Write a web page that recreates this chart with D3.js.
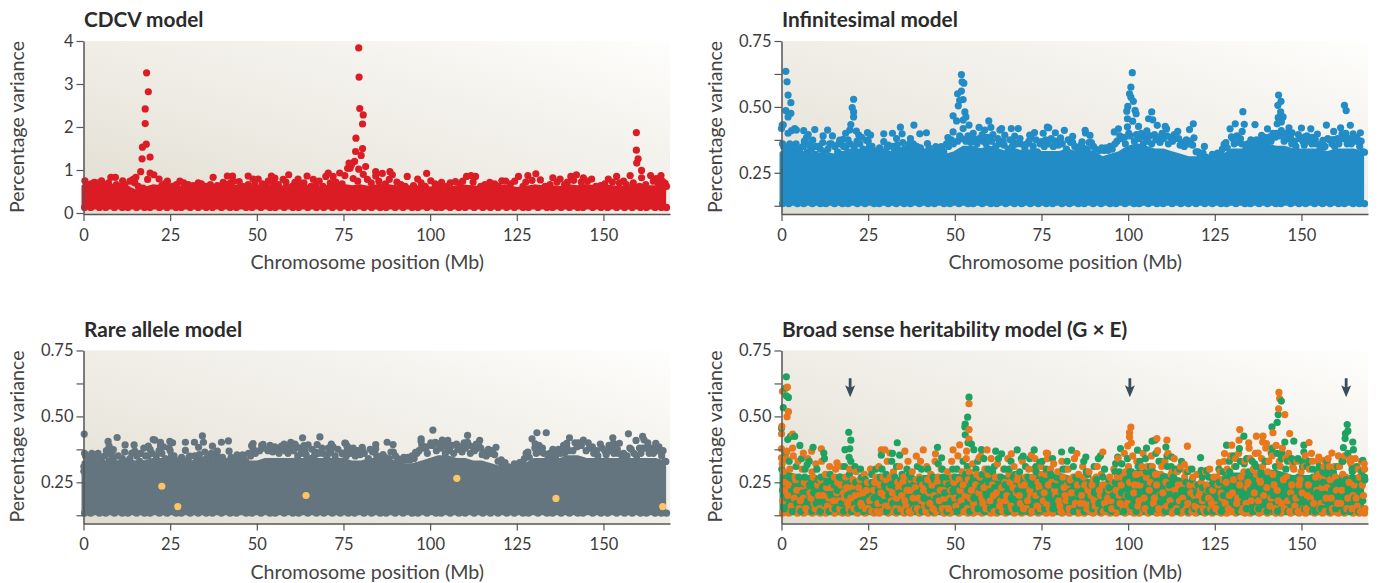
<!DOCTYPE html>
<html>
<head>
<meta charset="utf-8">
<script src="https://cdnjs.cloudflare.com/ajax/libs/d3/7.8.5/d3.min.js"></script>
<style>
  html, body { margin: 0; padding: 0; background: #fff; }
  svg { display: block; font-family: Lato, sans-serif; }
  .title { font-weight: 700; font-size: 20.8px; fill: #2b2b2b; }
  .label { font-size: 19.6px; fill: #444; }
  .tick text { font-size: 16.5px; fill: #3c3c3c; font-family: Lato, sans-serif; }
</style>
</head>
<body>
<div class="content"></div>
<script>
const xTicks = [0, 25, 50, 75, 100, 125, 150];
const cdcvTicks = [0, 1, 2, 3, 4];
const varTicks = [0.125, 0.25, 0.375, 0.5, 0.625, 0.75];
const varLabels = ["", "0.25", "", "0.50", "", "0.75"];

// Mb positions for the solid bottom part of each cloud
const coreMb = [0,2.5,5,7.5,10,12.5,15,17.5,20,22.5,25,27.5,30,32.5,35,37.5,40,42.5,45,47.5,50,52.5,55,57.5,60,62.5,65,67.5,70,72.5,75,77.5,80,82.5,85,87.5,90,92.5,95,97.5,100,102.5,105,107.5,110,112.5,115,117.5,120,122.5,125,127.5,130,132.5,135,137.5,140,142.5,145,147.5,150,152.5,155,157.5,160,162.5,165,167.5];

const cdcvCore = [.62,.64,.62,.6,.63,.6,.5,.56,.62,.6,
  .63,.6,.57,.6,.61,.63,.6,.63,.6,.57,
  .61,.63,.6,.6,.63,.62,.6,.58,.6,.62,
  .63,.6,.62,.58,.63,.63,.6,.6,.6,.6,
  .57,.6,.56,.6,.61,.6,.57,.6,.62,.6,
  .56,.58,.62,.6,.6,.58,.62,.6,.63,.6,
  .62,.6,.58,.6,.62,.6,.6,.6];
const infCore = [.325,.335,.325,.325,.315,.325,.315,.325,.335,.335,
  .335,.325,.315,.315,.325,.325,.325,.335,.325,.315,
  .325,.345,.345,.335,.345,.335,.325,.335,.325,.335,
  .325,.325,.325,.335,.325,.335,.325,.305,.315,.325,
  .345,.355,.345,.335,.335,.325,.315,.305,.305,.295,
  .305,.315,.335,.335,.335,.345,.355,.345,.345,.335,
  .335,.335,.335,.325,.335,.335,.335,.325];
const rareCore = [.325,.325,.325,.325,.325,.335,.325,.325,.335,.335,
  .335,.335,.325,.325,.335,.325,.325,.335,.325,.325,
  .325,.335,.335,.335,.335,.335,.335,.335,.335,.335,
  .335,.325,.325,.335,.335,.335,.325,.315,.315,.325,
  .335,.345,.345,.335,.335,.325,.325,.315,.305,.295,
  .295,.315,.335,.335,.335,.335,.345,.345,.335,.335,
  .335,.335,.335,.335,.335,.335,.335,.325];
const geCore = [.3,.28,.27,.27,.27,.26,.26,.26,.26,.25,
  .25,.25,.26,.26,.26,.26,.27,.27,.27,.26,
  .27,.28,.27,.27,.27,.27,.27,.27,.27,.27,
  .27,.27,.28,.27,.26,.26,.25,.24,.25,.26,
  .28,.29,.29,.29,.28,.27,.26,.25,.24,.24,
  .25,.27,.28,.28,.28,.28,.29,.29,.28,.27,
  .27,.27,.27,.27,.27,.27,.27,.27];
// lower edge of the clouds, shared positions
const floorMb = [0.3,2.1,4.6,6.4,8.9,11.2,12.8,15.3,17.6,19.2,21.9,24.1,26.7,28.2,30.8,33.1,35.4,37.2,39.8,42.3,44.1,46.9,48.6,51.2,53.8,55.3,57.9,60.4,62.1,64.7,67.2,69.3,71.8,74.1,76.4,78.2,80.9,83.1,85.6,87.3,89.9,92.2,94.8,96.5,99.1,101.7,103.2,105.8,108.3,110.1,112.7,115.2,117.4,119.6,122.1,124.3,126.8,128.4,131.1,133.7,135.3,137.8,140.2,142.6,144.1,146.9,149.3,151.2,153.8,156.1,158.3,160.7,162.4,164.9,166.7,168.2];

const cdcvPoints = [[18.2,3.26],[18.7,2.82],[17.8,2.42],[17.8,2.08],[18.1,1.6],[17,1.53],[16.9,1.26],[19.2,1.3],[16.5,.96],[19.2,.93],[20.3,.89],[18.5,.78],[17.2,.58],[21.8,.79],[24.2,.74],
  [.4,.75],[3.1,.71],[5.2,.75],[7.9,.83],[9.2,.83],[11.3,.75],[13.4,.74],[15.1,.83],[14.3,.78],[1.3,.66],[4.2,.7],[6.6,.62],[9.5,.66],[12.2,.58],[27.8,.74],[30.2,.66],[33.1,.7],[34,.68],[37.4,.83],[36.6,.66],[40.3,.71],[41.5,.86],[43,.86],[44.9,.73],[43.2,.74],[47.5,.86],[48.9,.79],[47.5,.66],[50.4,.79],[54.2,.86],[55.2,.81],[53.3,.74],[57.6,.78],[59.2,.89],[61,.71],[61.9,.79],[64.5,.86],[66.3,.78],[68,.74],[70.6,.93],[69.9,.85],[72,.85],[73.9,.93],[75.4,.87],[76.2,1.04],[76.6,1.16],
  [79.4,3.84],[79.5,3.16],[79.7,2.43],[80.7,2.28],[80.5,2.07],[78.6,1.74],[80.5,1.5],[78.5,1.43],[80.1,1.34],[78.2,1.2],[77.3,1.12],[81.4,1.08],[79.4,1.02],[76.9,1.04],[80.7,.9],[84.3,.96],[84.3,.86],[86.2,.92],[88.4,.96],[89.1,.89],[93.4,.85],[96.4,.79],[99,.92],[100.2,.75],[103.3,.71],[107.3,.73],[110.5,.85],[111.8,.87],[113.1,.85],[117.2,.71],[120.7,.75],[125.5,.85],[128.2,.87],[130.5,.91],[131.8,.77],[135.4,.82],[137.5,.79],[140.6,.85],[142.2,.89],[144.2,.82],[146.6,.79],[151.4,.79],[153.8,.85],[155.8,.74],[157.7,.87],[159.5,1.87],[159.5,1.46],[160,1.26],[159.6,1.16],[161,.99],[161,.82],[163.6,.87],[166.6,.87],[167.8,.69],[165.2,.8]];
const cdcvFill = [[.8,.62],[2.2,.68],[3.8,.6],[5.6,.66],[7.2,.7],[8.4,.6],[10.4,.62],[11.8,.66],[14.8,.7],[15.8,.62],[22.6,.64],[23.4,.68],[25.6,.62],[26.8,.66],[28.9,.7],[29.8,.6],[31.6,.64],[35.2,.62],[38.6,.64],[39.4,.6],[41.2,.66],[42.4,.7],[45.8,.62],[46.6,.6],[49.4,.66],[51.6,.68],[52.6,.62],[54.8,.7],[56.2,.66],[58.4,.72],[60.2,.62],[62.8,.66],[63.6,.7],[65.6,.62],[67.1,.66],[69.1,.62],[71.2,.7],[72.8,.72],[74.6,.68],[77.8,.8],[79.1,.74],[81.9,.78],[83,.7],[85.2,.74],[87.1,.68],[88.2,.78],[90.4,.72],[91.6,.66],[92.8,.62],[95.2,.64],[97.4,.7],[98.6,.62],[101.4,.68],[102.6,.6],[104.8,.62],[105.8,.7],[108.6,.68],[109.4,.74],[112.4,.72],[114.6,.62],[115.8,.66],[118.6,.68],[119.6,.62],[121.8,.74],[123.2,.68],[124.4,.74],[126.8,.62],[127.6,.72],[129.4,.76],[133.2,.62],[134.6,.66],[136.6,.72],[138.8,.66],[139.6,.72],[141.4,.76],[143.6,.72],[145.4,.74],[147.8,.62],[149.2,.64],[150.4,.68],[152.6,.72],[154.6,.7],[156.6,.66],[158.6,.7],[160.4,.62],[162.2,.66],[164.4,.74],[165.9,.68],[167,.74],[168.2,.62]];

const infPoints = [[1.25,.635],[1.6,.595],[1.9,.545],[2.7,.516],[1.25,.486],[2.7,.476],[1.9,.462],[.2,.431],[.5,.432],[0,.418],[1.9,.4],[3.8,.418],[2.9,.41],[4.3,.412],[6.4,.41],[7.7,.395],[9.6,.414],[7.2,.384],[9,.374],[8.2,.36],[12,.39],[13.3,.412],[14.7,.39],[10.6,.35],[14.4,.36],[16.8,.374],[17.8,.377],[18.5,.4],[19.7,.412],[20,.433],[20.4,.497],[20.8,.481],[20.8,.462],[20.8,.529],[21.6,.408],[22.3,.393],[24.8,.403],[25.7,.393],[24.5,.374],[29.5,.398],[29.5,.368],[30.8,.355],[32,.4],[33.2,.38],[34.3,.423],[34.8,.398],[38.2,.431],[37.2,.38],[38,.36],[39,.35],[39.9,.398],[41.8,.402],[42.1,.361],[44.5,.349],[46.1,.349],
  [49.5,.466],[50.5,.447],[51.9,.623],[52.1,.595],[52.6,.59],[51.9,.56],[50.8,.55],[52.4,.528],[51.4,.525],[51,.504],[52.9,.481],[53.2,.462],[52.4,.45],[54.1,.431],[49.5,.405],[48,.384],[52.4,.418],[55.3,.4],[57,.422],[58.6,.412],[59.8,.447],[60.4,.422],[63,.412],[63.5,.418],[64.4,.393],[66.3,.418],[68.3,.418],[67.3,.389],[71.6,.393],[73,.403],[75.5,.4],[76.7,.423],[75,.368],
  [101.2,.63],[100.8,.575],[100.4,.55],[100.8,.537],[101.5,.521],[99.9,.502],[99.6,.484],[102,.487],[102.3,.474],[106.8,.481],[105.9,.455],[107.1,.451],[99.8,.455],[101.3,.446],[108.4,.43],[99.8,.424],[103,.426],[110.7,.426],[111.1,.417],[114.3,.407],[117.7,.414],[118.8,.436],[122,.35],[119,.383],[105.4,.409],[97.2,.417],[96,.405],[87.6,.411],[87.7,.401],[89,.392],[81.6,.411],[77.1,.421],[79,.402],[84,.388],[80.5,.383],[86.7,.367],[133.1,.482],[130.9,.436],[133.5,.434],[129.4,.417],[132.9,.407],[136.6,.433],[127.7,.358],[129.8,.386],[135.6,.367],[138.5,.392],[140.2,.417],[140.9,.386],[143.4,.545],[144.1,.521],[143.2,.506],[144,.481],[144.7,.462],[143.3,.459],[143,.436],[144.2,.443],[146.4,.421],[147.3,.402],[145.2,.386],[150,.42],[151,.386],[152.7,.417],[153.4,.38],[154.6,.397],[157.2,.431],[156.2,.373],[159.3,.407],[161.3,.421],[161.7,.398],[162.4,.506],[162.9,.486],[164.1,.43],[164.9,.398],[167,.402],[166.3,.371],[168.2,.328],[159.1,.376]];
const rarePoints = [[.2,.433],[.1,.31],[.1,.292],[7.1,.405],[7.4,.387],[9.7,.42],[8.6,.374],[8,.361],[12,.392],[14.6,.392],[14.8,.368],[17.4,.38],[18.7,.387],[20.1,.412],[20.6,.41],[22.2,.402],[22.2,.389],[24.9,.405],[25.7,.4],[24.7,.38],[29.4,.402],[29.4,.371],[30.7,.349],[32,.402],[33.2,.383],[34.3,.426],[34.6,.402],[37.2,.387],[38.6,.368],[39.8,.402],[41.8,.407],[42,.368],[44.3,.354],[45.9,.354],[48.5,.389],[48.9,.397],[51.8,.394],[57.1,.387],[59.8,.402],[61.3,.387],[63.2,.419],[63.6,.389],[64.8,.392],[67.4,.393],[68.2,.422],[71.5,.395],[70.6,.38],[75.4,.399],[76.1,.387],[74.9,.361],
  [100.8,.448],[97.4,.415],[97.4,.406],[101.5,.402],[102.6,.396],[103.5,.41],[105.1,.409],[110.8,.428],[110.8,.402],[114.3,.409],[114,.39],[119,.383],[98.6,.383],[95.8,.364],[87.6,.402],[89.3,.393],[84.3,.393],[84.3,.377],[80.4,.383],[75.6,.398],[76.1,.383],[74.7,.358],[78.8,.358],[130.8,.438],[133.5,.438],[129.4,.415],[130.3,.396],[127.7,.36],[135.8,.368],[140.2,.419],[139.4,.398],[138.5,.39],[143.5,.393],[152.7,.419],[152.9,.398],[154.6,.398],[153.4,.377],[157.2,.434],[159.4,.409],[161.3,.424],[161.7,.411],[165.1,.398],[163.2,.377],[166.3,.37],[168,.329],[120.5,.335],[124.3,.307],[126.3,.326],[129.7,.32]];
// the upper fringe of the cloud looks the same in the two middle models
const sharedFill = [[.6,.35],[1.4,.33],[2.4,.36],[3.2,.34],[4.2,.36],[5.2,.33],[6.2,.35],[7.4,.33],[8.6,.34],[9.8,.32],[11.2,.34],[12.4,.33],[13.4,.34],[15.4,.35],[16.2,.33],[17.2,.32],[18.6,.35],[19.8,.36],[21,.35],[22.6,.36],[23.6,.34],[25.4,.35],[26.6,.33],[27.8,.335],[28.8,.33],[30,.33],[31.4,.32],[32.6,.33],[33.8,.335],[35.4,.34],[36.4,.345],[37.6,.335],[39.4,.33],[40.6,.325],[41.6,.33],[43,.33],[44.2,.33],[45.4,.325],[46.8,.33],[48.2,.35],[49.6,.36],[50.8,.37],[52,.38],[53.2,.37],[54.6,.365],[55.8,.37],[57,.38],[58.2,.37],[59.4,.385],[60.6,.37],[61.8,.35],[62.8,.36],[64.2,.355],[65.4,.34],[66.6,.35],[67.8,.36],[69,.36],[70.2,.34],[71.4,.37],[72.6,.35],[73.8,.33],[75.8,.35],[77,.36],[78.4,.35],[79.8,.355],[81,.36],[82.2,.34],[83.4,.365],[84.6,.35],[85.8,.33],[87,.345],[88.2,.34],[89.4,.365],[90.6,.34],[91.8,.335],[93,.335],[94.2,.335],[95.4,.34],[96.8,.37],[98,.38],[99.2,.36],[100.6,.39],[101.8,.37],[103.2,.38],[104.4,.36],[105.6,.37],[106.8,.36],[108,.375],[109.2,.365],[110.2,.38],[111.6,.36],[112.8,.37],[113.8,.38],[115,.355],[116.2,.35],[117.4,.36],[118.6,.355],[119.6,.33],[120.8,.315],[122.4,.31],[123.6,.305],[125,.31],[126.8,.32],[128.6,.345],[130.6,.36],[131.8,.365],[132.8,.36],[134,.34],[135,.35],[136.2,.35],[137.6,.36],[138.8,.36],[140,.37],[141.2,.37],[142.4,.385],[143.6,.39],[145,.37],[146,.38],[147.2,.36],[148.4,.35],[149.6,.38],[150.8,.355],[152,.37],[153,.36],[154.2,.36],[155.4,.34],[156.8,.35],[158,.375],[159.6,.35],[160.8,.36],[162.2,.38],[163.2,.36],[164.4,.36],[165.6,.37],[166.8,.35],[167.8,.33]];
const sharedCrest = [[.3,.36],[2,.35],[3.9,.355],[4.9,.345],[6.6,.37],[8,.355],[10,.35],[11.9,.365],[13.9,.36],[16.5,.36],[17.9,.35],[19.2,.375],[21.8,.37],[23.1,.385],[25,.37],[26.1,.35],[28.3,.345],[30.4,.345],[32.1,.35],[33.4,.355],[35,.365],[36.9,.36],[38.6,.35],[40.1,.345],[42.6,.345],[44.9,.335],[46.2,.34],[47.6,.36],[49,.375],[51.4,.39],[53.8,.39],[55.2,.385],[56.4,.36],[57.9,.395],[59,.36],[61,.395],[62.4,.38],[63.9,.37],[65.9,.375],[67,.365],[68.8,.38],[70.8,.36],[72,.385],[73.4,.375],[74.6,.36],[76.2,.375],[77.8,.38],[79,.37],[80.4,.375],[82.7,.375],[84,.365],[85.2,.345],[86.4,.355],[88.7,.365],[90,.35],[92.4,.345],[93.6,.345],[94.8,.35],[96.2,.36],[97.6,.39],[99,.385],[100.2,.4],[102.4,.395],[103.8,.4],[104.9,.385],[106.2,.39],[107.6,.395],[108.8,.385],[109.8,.4],[111.2,.39],[112.3,.385],[113.3,.395],[114.6,.38],[115.6,.365],[116.8,.375],[118,.37],[120.2,.33],[121.6,.325],[124.3,.32],[125.8,.325],[127.2,.34],[128.2,.365],[130.2,.38],[131.4,.39],[132.4,.38],[134.5,.36],[135.4,.375],[137,.375],[138.2,.375],[139.4,.385],[141.8,.4],[142.8,.4],[144.2,.41],[145.6,.4],[146.8,.385],[148,.37],[149.1,.395],[150.4,.37],[151.6,.39],[153.1,.385],[154,.375],[155.8,.36],[157.6,.38],[158.8,.36],[160.4,.38],[161.4,.38],[162.8,.4],[163.8,.38],[165.1,.38],[166,.385],[167.2,.37]];
const rareAlleles = [[22.6,.235],[27.2,.158],[64.2,.2],[107.7,.265],[136.3,.189],[167.1,.158]];

const gePeakGreen = [[1.4,.65],[1.2,.607],[1.4,.578],[2,.572],[.5,.533],[0,.455],[1.8,.412],[2.6,.424],[3.8,.424],[5.3,.39],[9.1,.383],[19.4,.44],[20,.41],[19.7,.377],[18.3,.374],[19.5,.345],[33.4,.4],[28.8,.353],[32,.36],[34.1,.353],[45,.383],[46.2,.343],[54.1,.573],[53.7,.497],[53,.471],[52.9,.46],[53,.43],[53.8,.4],[54.8,.395],[55.5,.374],[57.7,.374],[61.8,.368],[63.5,.358],[68,.373],[72.9,.373],[69.7,.349],[74.5,.326],[12.2,.361],[7.4,.317],
  [163.2,.469],[163.4,.445],[162.7,.435],[162.6,.416],[164.8,.403],[162.1,.382],[165,.374],[144.2,.558],[143.3,.507],[143,.477],[141.5,.46],[97.8,.378],[97,.346],[102.7,.372],[105.3,.38],[106.9,.406],[107.8,.41],[110.9,.384],[112.6,.346],[120.9,.344],[121.1,.295],[128.4,.391],[132.1,.378],[133.4,.425],[145.2,.403],[147.8,.406],[150.7,.391],[150.7,.365],[92,.35],[80.8,.365],[83.7,.372],[87.8,.346],[96.4,.321],[157.6,.308],[167.7,.333],[122.7,.295]];
const gePeakOrange = [[.3,.595],[1.7,.611],[2,.518],[1.6,.499],[0,.434],[.1,.462],[3.2,.433],[0,.377],[1.6,.368],[3.2,.38],[0,.343],[6.3,.361],[11.5,.377],[8.7,.368],[16,.324],[28.8,.373],[29.8,.373],[31.3,.361],[35.6,.368],[40.9,.373],[38.9,.349],[44.4,.358],[54.1,.548],[54.1,.45],[54.1,.414],[51.4,.392],[49.5,.373],[53.4,.368],[59.3,.373],[57,.343],[66.3,.358],[72.1,.353],[76.4,.361],
  [100.8,.459],[100.4,.439],[100.4,.422],[100.9,.4],[99.9,.388],[108.3,.416],[111.2,.41],[117.1,.387],[116.2,.318],[132.2,.45],[132,.41],[137,.425],[138.9,.425],[138.8,.403],[139.9,.397],[143.5,.591],[143.7,.568],[143.4,.529],[145.2,.507],[141.8,.438],[146.6,.435],[152.2,.401],[147.1,.333],[155,.346],[158.8,.361],[156.6,.333],[168.1,.321],[164.3,.34],[92.7,.365],[85.2,.359],[76.8,.359],[126.3,.325],[127.8,.359],[129.9,.391],[134.8,.4],[137.5,.361]];
const geCloudOrange = [[.2,.32],[.6,.29],[1,.25],[1.4,.34],[1.8,.2],[2.4,.3],[2.8,.16],[3.4,.35],[3.9,.27],[4.4,.22],[4.8,.33],[5.4,.18],[6,.3],[6.6,.25],[7,.15],[7.6,.34],[8.2,.21],[8.8,.29],[9.4,.17],[9.9,.32],
  [10.4,.24],[11,.15],[11.6,.33],[12,.2],[12.7,.28],[13.3,.16],[13.9,.31],[14.4,.23],[15,.18],[15.6,.3],[16.2,.25],[16.8,.15],[17.4,.31],[17.9,.21],[18.5,.27],[19.1,.17],[19.7,.3],[20.3,.23],[20.9,.15],[21.5,.29],
  [22,.2],[22.6,.26],[23.2,.16],[23.9,.28],[24.5,.22],[25,.15],[25.7,.3],[26.3,.19],[26.9,.25],[27.5,.14],[28.1,.31],[28.7,.21],[29.3,.27],[29.9,.16],[30.5,.33],[31.1,.23],[31.7,.18],[32.3,.29],[32.9,.15],[33.5,.25],
  [34.1,.31],[34.7,.2],[35.3,.27],[35.9,.16],[36.5,.33],[37.1,.22],[37.7,.29],[38.3,.15],[38.9,.26],[39.5,.19],[40.1,.33],[40.7,.24],[41.3,.16],[41.9,.31],[42.5,.21],[43.1,.28],[43.7,.15],[44.3,.33],[44.9,.25],[45.5,.18],
  [46.1,.3],[46.7,.22],[47.3,.15],[47.9,.29],[48.5,.19],[49.1,.33],[49.7,.25],[50.3,.16],[50.9,.35],[51.5,.22],[52.1,.29],[52.7,.14],[53.3,.34],[53.9,.26],[54.5,.19],[55.1,.32],[55.7,.15],[56.3,.28],[56.9,.21],[57.5,.35],
  [58.1,.17],[58.7,.3],[59.3,.24],[59.9,.15],[60.5,.34],[61.1,.2],[61.7,.27],[62.3,.32],[62.9,.16],[63.5,.23],[64.1,.3],[64.7,.18],[65.3,.34],[65.9,.25],[66.5,.15],[67.1,.31],[67.7,.21],[68.3,.28],[68.9,.17],[69.5,.33],
  [70.1,.24],[70.7,.15],[71.3,.3],[71.9,.2],[72.5,.27],[73.1,.34],[73.7,.16],[74.3,.23],[74.9,.31],[75.5,.18],[76.1,.28],[76.7,.34],[77.3,.15],[77.9,.25],[78.5,.32],[79.1,.2],[79.7,.29],[80.3,.16],[80.9,.33],[81.5,.23],
  [82.1,.18],[82.7,.3],[83.3,.26],[83.9,.15],[84.5,.34],[85.1,.21],[85.7,.28],[86.3,.17],[86.9,.31],[87.5,.24],[88.1,.15],[88.7,.29],[89.3,.2],[89.9,.26],[90.5,.16],[91.1,.31],[91.7,.22],[92.3,.28],[92.9,.14],[93.5,.24],
  [94.1,.19],[94.7,.27],[95.3,.15],[95.9,.3],[96.5,.22],[97.1,.34],[97.7,.17],[98.3,.27],[98.9,.36],[99.5,.2],[100.1,.31],[100.7,.15],[101.3,.35],[101.9,.24],[102.5,.33],[103.1,.18],[103.7,.28],[104.3,.36],[104.9,.15],[105.5,.31],
  [106.1,.22],[106.7,.35],[107.3,.17],[107.9,.28],[108.5,.37],[109.1,.2],[109.7,.31],[110.3,.15],[110.9,.25],[111.5,.36],[112.1,.18],[112.7,.29],[113.3,.34],[113.9,.15],[114.5,.24],[115.1,.31],[115.7,.19],[116.3,.27],[116.9,.15],[117.5,.3],
  [118.1,.21],[118.7,.27],[119.3,.16],[119.9,.28],[120.5,.2],[121.1,.25],[121.7,.15],[122.3,.29],[122.9,.22],[123.5,.3],[124.1,.17],[124.7,.27],[125.3,.15],[125.9,.24],[126.5,.29],[127.1,.19],[127.7,.33],[128.3,.25],[128.9,.15],[129.5,.35],
  [130.1,.21],[130.7,.31],[131.3,.17],[131.9,.36],[132.5,.27],[133.1,.15],[133.7,.33],[134.3,.23],[134.9,.38],[135.5,.18],[136.1,.3],[136.7,.36],[137.3,.15],[137.9,.26],[138.5,.34],[139.1,.2],[139.7,.38],[140.3,.29],[140.9,.16],[141.5,.35],
  [142.1,.24],[142.7,.39],[143.3,.18],[143.9,.31],[144.5,.38],[145.1,.15],[145.7,.27],[146.3,.36],[146.9,.21],[147.5,.31],[148.1,.16],[148.7,.33],[149.3,.24],[149.9,.29],[150.5,.15],[151.1,.35],[151.7,.2],[152.3,.3],[152.9,.36],[153.5,.17],
  [154.1,.27],[154.7,.33],[155.3,.15],[155.9,.23],[156.5,.31],[157.1,.19],[157.7,.34],[158.3,.26],[158.9,.15],[159.5,.31],[160.1,.22],[160.7,.35],[161.3,.17],[161.9,.28],[162.5,.35],[163.1,.15],[163.7,.25],[164.3,.32],[164.9,.2],[165.5,.34],
  [166.1,.16],[166.7,.27],[167.3,.33],[167.9,.2],[168.3,.15]];
const geCloudGreen = [[.1,.3],[1.2,.36],[2.2,.33],[3,.27],[4.2,.31],[5.8,.34],[6.8,.3],[8,.33],[9,.25],[10.2,.3],[11.4,.27],[12.4,.34],[14,.28],[15.2,.24],[17,.27],[18.2,.31],[20,.33],[21.2,.31],[22.8,.3],[24.2,.26],
  [26,.28],[27.2,.3],[29,.3],[30.2,.28],[31.8,.33],[33.2,.31],[34.8,.28],[36.2,.3],[37.4,.27],[39.2,.31],[40.4,.3],[42.2,.3],[43.8,.27],[45.2,.32],[46.4,.3],[47.6,.27],[49.4,.3],[50.6,.3],[52.4,.33],[53.6,.31],
  [55.4,.27],[56.6,.33],[58.4,.34],[59.6,.3],[61.4,.31],[62.6,.34],[64.4,.3],[66.2,.33],[67.4,.28],[69.2,.34],[70.4,.31],[71.6,.34],[73.4,.31],[75.2,.33],[76.4,.3],[78.2,.34],[79.4,.27],[81.2,.3],[82.4,.33],[84.2,.31],
  [85.4,.27],[87.2,.33],[88.4,.28],[90.2,.31],[91.4,.34],[93.2,.3],[94.4,.26],[96.2,.29],[98.2,.32],[99.8,.34],[101,.29],[103.4,.33],[105,.34],[106.4,.31],[108,.36],[109.4,.33],[111.2,.35],[112.4,.31],[113.6,.3],[115.4,.33],
  [117.2,.29],[118.4,.3],[120.2,.24],[121.4,.27],[123.2,.27],[124.4,.25],[126.2,.3],[127.4,.29],[129.2,.33],[130.4,.35],[132.4,.33],[134.2,.34],[135.8,.33],[137,.31],[138.2,.3],[140.2,.33],[141.6,.38],[143,.36],[144.2,.34],[146,.33],
  [147.2,.34],[149,.34],[150.2,.33],[151.6,.31],[153.2,.3],[154.6,.29],[156.2,.29],[157.4,.33],[159.2,.29],[160.4,.31],[162,.33],[163.4,.36],[164.6,.3],[166,.31],[167.4,.29],[168.2,.27]];
const geBandOrange = [[.4,.18],[.9,.22],[2,.24],[2.7,.14],[3.7,.19],[4.1,.26],[5.1,.15],[5.7,.22],[6.3,.19],[7.3,.24],[8,.14],[8.5,.19],[9.1,.27],[9.7,.15],[10.7,.2],[11.3,.26],[12.3,.16],[13,.23],[13.6,.19],[14.7,.15],[15.3,.27],[15.9,.21],[16.5,.18],[17.1,.24],[17.7,.14],[18.2,.19],[18.8,.23],[19.4,.15],[20,.19],[20.6,.26],[21.2,.2],[21.8,.14],[22.3,.23],[22.9,.17],[23.5,.21],[24.2,.15],[24.8,.25],[25.4,.18],[26,.14],[26.6,.22],[27.2,.27],[27.8,.17],[28.4,.24],[29,.14],[29.6,.2],[30.2,.26],[30.8,.16],[31.4,.27],[32,.21],[32.6,.14],[33.2,.19],[33.8,.23],[34.4,.15],[35,.25],[35.6,.18],[36.2,.22],[36.8,.14],[37.4,.26],[38,.19],[38.6,.23],[39.2,.15],[39.8,.27],[40.4,.18],[41,.22],[41.6,.14],[42.2,.26],[42.8,.17],[43.4,.24],[44,.2],[44.6,.14],[45.2,.27],[45.8,.22],[46.4,.15],[47,.19],[47.6,.25],[48.2,.15],[48.8,.22],[49.4,.27],[50,.19],[50.6,.14],[51.2,.26],[51.8,.18],[52.4,.24],[53,.2],[53.6,.15],[54.2,.29],[54.8,.22],[55.4,.17],[56,.24],[56.6,.14],[57.2,.27],[57.8,.19],[58.4,.23],[59,.15],[59.6,.28],[60.2,.18],[60.8,.24],[61.4,.14],[62,.21],[62.6,.27],[63.2,.18],[63.8,.14],[64.4,.25],[65,.2],[65.6,.28],[66.2,.16],[66.8,.23],[67.4,.14],[68,.26],[68.6,.2],[69.2,.24],[69.8,.15],[70.4,.27],[71,.18],[71.6,.22],[72.2,.14],[72.8,.3],[73.4,.2],[74,.25],[74.6,.15],[75.2,.28],[75.8,.21],[76.4,.17],[77,.24],[77.6,.3],[78.2,.14],[78.8,.22],[79.4,.26],[80,.18],[80.6,.14],[81.2,.27],[81.8,.2],[82.4,.24],[83,.15],[83.6,.21],[84.2,.27],[84.8,.17],[85.4,.24],[86,.14],[86.6,.2],[87.2,.27],[87.8,.17],[88.4,.22],[89,.14],[89.6,.24],[90.2,.18],[90.8,.27],[91.4,.14],[92,.2],[92.6,.24],[93.2,.17],[93.8,.14],[94.4,.22],[95,.18],[95.6,.25],[96.2,.15],[96.8,.27],[97.4,.2],[98,.24],[98.6,.15],[99.2,.29],[99.8,.17],[100.4,.25],[101,.14],[101.6,.21],[102.2,.28],[102.8,.16],[103.4,.24],[104,.31],[104.6,.19],[105.2,.27],[105.8,.14],[106.4,.25],[107,.31],[107.6,.19],[108.2,.24],[108.8,.15],[109.4,.28],[110,.21],[110.6,.33],[111.2,.16],[111.8,.23],[112.4,.28],[113,.14],[113.6,.22],[114.2,.29],[114.8,.18],[115.4,.24],[116,.14],[116.6,.29],[117.2,.17],[117.8,.24],[118.4,.14],[119,.2],[119.6,.24],[120.2,.15],[120.8,.22],[121.4,.18],[122,.14],[122.6,.24],[123.2,.19],[123.8,.15],[124.4,.22],[125,.18],[125.6,.27],[126.2,.14],[126.8,.21],[127.4,.26],[128,.17],[128.6,.3],[129.2,.2],[129.8,.14],[130.4,.26],[131,.34],[131.6,.19],[132.2,.24],[132.8,.14],[133.4,.29],[134,.17],[134.6,.25],[135.2,.34],[135.8,.14],[136.4,.21],[137,.28],[137.6,.18],[138.2,.25],[138.8,.31],[139.4,.14],[140,.23],[140.6,.33],[141.2,.19],[141.8,.28],[142.4,.15],[143,.22],[143.6,.33],[144.2,.17],[144.8,.26],[145.4,.34],[146,.18],[146.6,.14],[147.2,.24],[147.8,.3],[148.4,.19],[149,.14],[149.6,.26],[150.2,.21],[150.8,.31],[151.4,.15],[152,.24],[152.6,.19],[153.2,.33],[153.8,.14],[154.4,.22],[155,.28],[155.6,.17],[156.2,.26],[156.8,.14],[157.4,.23],[158,.31],[158.6,.19],[159.2,.14],[159.8,.27],[160.4,.17],[161,.31],[161.6,.22],[162.2,.14],[162.8,.27],[163.4,.19],[164,.33],[164.6,.15],[165.2,.24],[165.8,.19],[166.4,.3],[167,.14],[167.6,.24],[168.2,.3]];
const geBandGreen = [[.3,.22],[.8,.15],[1.5,.19],[2.3,.27],[3.1,.14],[3.8,.23],[4.4,.17],[5,.27],[5.6,.14],[6.2,.21],[6.7,.27],[7.5,.18],[8.1,.24],[8.7,.14],[9.3,.21],[10,.17],[10.6,.26],[11.2,.14],[11.8,.23],[12.5,.17],[13.1,.25],[13.7,.14],[14.3,.2],[14.9,.26],[15.5,.15],[16.1,.22],[16.7,.27],[17.3,.17],[17.9,.14],[18.5,.24],[19,.2],[19.6,.28],[20.2,.14],[20.8,.21],[21.4,.25],[22,.15],[22.5,.18],[23.1,.27],[23.7,.14],[24.3,.23],[24.9,.18],[25.5,.14],[26.1,.25],[26.7,.19],[27.3,.14],[27.9,.22],[28.5,.27],[29.1,.18],[29.7,.24],[30.3,.14],[30.9,.2],[31.5,.24],[32.1,.17],[32.7,.27],[33.3,.14],[33.9,.21],[34.5,.26],[35.1,.17],[35.7,.23],[36.3,.14],[36.9,.28],[37.5,.19],[38.1,.24],[38.7,.15],[39.3,.21],[39.9,.26],[40.5,.14],[41.1,.19],[41.7,.25],[42.3,.16],[42.9,.22],[43.5,.14],[44.1,.26],[44.7,.19],[45.3,.23],[45.9,.15],[46.5,.27],[47.1,.21],[47.7,.14],[48.3,.24],[48.9,.18],[49.5,.22],[50.1,.27],[50.7,.14],[51.3,.19],[51.9,.24],[52.5,.16],[53.1,.28],[53.7,.22],[54.3,.14],[54.9,.25],[55.5,.19],[56.1,.3],[56.7,.15],[57.3,.23],[57.9,.28],[58.5,.14],[59.1,.2],[59.7,.25],[60.3,.15],[60.9,.29],[61.5,.23],[62.1,.17],[62.7,.14],[63.3,.27],[63.9,.2],[64.5,.24],[65.1,.14],[65.7,.3],[66.3,.19],[66.9,.27],[67.5,.15],[68.1,.22],[68.7,.29],[69.3,.14],[69.9,.25],[70.5,.18],[71.1,.27],[71.7,.14],[72.3,.24],[72.9,.19],[73.5,.29],[74.1,.14],[74.7,.21],[75.3,.26],[75.9,.15],[76.5,.24],[77.1,.19],[77.7,.28],[78.3,.15],[78.9,.24],[79.5,.19],[80.1,.14],[80.7,.26],[81.3,.21],[81.9,.3],[82.5,.15],[83.1,.25],[83.7,.18],[84.3,.14],[84.9,.27],[85.5,.21],[86.1,.16],[86.7,.25],[87.3,.14],[87.9,.29],[88.5,.19],[89.1,.24],[89.7,.15],[90.3,.21],[90.9,.26],[91.5,.17],[92.1,.14],[92.7,.27],[93.3,.2],[93.9,.15],[94.5,.23],[95.1,.14],[95.7,.2],[96.3,.25],[96.9,.16],[97.5,.29],[98.1,.21],[98.7,.14],[99.3,.26],[99.9,.2],[100.5,.29],[101.1,.16],[101.7,.26],[102.3,.14],[102.9,.31],[103.5,.21],[104.1,.26],[104.7,.15],[105.3,.29],[105.9,.22],[106.5,.14],[107.1,.29],[107.7,.24],[108.3,.15],[108.9,.33],[109.5,.2],[110.1,.27],[110.7,.14],[111.3,.31],[111.9,.24],[112.5,.16],[113.1,.27],[113.7,.2],[114.3,.14],[114.9,.3],[115.5,.22],[116.1,.17],[116.7,.25],[117.3,.14],[117.9,.2],[118.5,.26],[119.1,.15],[119.7,.21],[120.3,.18],[120.9,.14],[121.5,.23],[122.1,.19],[122.7,.14],[123.3,.22],[123.9,.17],[124.5,.14],[125.1,.24],[125.7,.19],[126.3,.25],[126.9,.14],[127.5,.2],[128.1,.26],[128.7,.15],[129.3,.29],[129.9,.23],[130.5,.17],[131.1,.31],[131.7,.14],[132.3,.27],[132.9,.2],[133.5,.32],[134.1,.15],[134.7,.29],[135.3,.22],[135.9,.14],[136.5,.32],[137.1,.24],[137.7,.15],[138.3,.28],[138.9,.2],[139.5,.33],[140.1,.14],[140.7,.26],[141.3,.36],[141.9,.2],[142.5,.31],[143.1,.14],[143.7,.27],[144.3,.36],[144.9,.2],[145.5,.3],[146.1,.14],[146.7,.25],[147.3,.19],[147.9,.33],[148.5,.14],[149.1,.27],[149.7,.2],[150.3,.31],[150.9,.15],[151.5,.25],[152.1,.33],[152.7,.17],[153.3,.27],[153.9,.14],[154.5,.21],[155.1,.31],[155.7,.15],[156.3,.25],[156.9,.18],[157.5,.29],[158.1,.14],[158.7,.22],[159.3,.28],[159.9,.15],[160.5,.25],[161.1,.2],[161.7,.33],[162.3,.14],[162.9,.26],[163.5,.22],[164.1,.14],[164.7,.29],[165.3,.19],[165.9,.26],[166.5,.14],[167.1,.23],[167.7,.18],[168.3,.26]];
const arrowMb = [19.8, 100.5, 162.9];

const panels = [
  { title: "CDCV model", left: 83.5, top: 41, core: cdcvCore, floor: .13, color: "#dc1c24", floorColor: "#dc1c24",
    ticks: cdcvTicks, labels: d => d, domain: [-.0233, 4],
    layers: [{ data: cdcvFill, color: "#dc1c24" }, { data: cdcvPoints, color: "#dc1c24" }] },
  { title: "Infinitesimal model", left: 781.5, top: 41, core: infCore, floor: .133, color: "#228cc6", floorColor: "#228cc6",
    ticks: varTicks, labels: (d, i) => varLabels[i], domain: [.0938, .75],
    layers: [{ data: sharedFill, color: "#228cc6" }, { data: sharedCrest, color: "#228cc6" }, { data: infPoints, color: "#228cc6" }] },
  { title: "Rare allele model", left: 83.5, top: 350.5, core: rareCore, floor: .133, color: "#64757f", floorColor: "#64757f",
    ticks: varTicks, labels: (d, i) => varLabels[i], domain: [.0938, .75],
    layers: [{ data: sharedFill, color: "#64757f" }, { data: sharedCrest, color: "#64757f" }, { data: rarePoints, color: "#64757f" },
             { data: rareAlleles, color: "#fbc563" }] },
  { title: "Broad sense heritability model (G × E)", left: 781.5, top: 350.5, core: geCore, floor: .133, color: "#1ea262", floorColor: "#e8771d",
    layers: [],
    mixed: [[geCloudOrange, "#e8771d"], [geBandOrange, "#e8771d"], [gePeakOrange, "#e8771d"],
            [geCloudGreen, "#1ea262"], [geBandGreen, "#1ea262"], [gePeakGreen, "#1ea262"]],
    ticks: varTicks, labels: (d, i) => varLabels[i], domain: [.0938, .75],
    arrows: arrowMb }
];

const plotW = 586.5, plotH = 173, dotR = 3.6;

const svg = d3.select(".content").append("svg")
  .attr("width", 1378).attr("height", 583);

const defs = svg.append("defs");
const grad = defs.append("linearGradient").attr("id", "paper")
  .attr("x1", 0).attr("y1", 1).attr("x2", 1).attr("y2", 0);
grad.append("stop").attr("offset", "0%").attr("stop-color", "#e0dccf");
grad.append("stop").attr("offset", "35%").attr("stop-color", "#ece9e1");
grad.append("stop").attr("offset", "70%").attr("stop-color", "#f5f3ee");
grad.append("stop").attr("offset", "100%").attr("stop-color", "#fefefd");

panels.forEach(p => {
  const x = d3.scaleLinear().domain([0, 169.2]).range([p.left, p.left + plotW]);
  const y = d3.scaleLinear().domain(p.domain).range([p.top + plotH, p.top]);
  const g = svg.append("g");

  g.append("rect").attr("x", p.left).attr("y", p.top)
    .attr("width", plotW).attr("height", plotH).attr("fill", "url(#paper)");

  // solid part of the cloud
  const area = d3.area().x(d => x(d[0])).y0(y(p.floor)).y1(d => y(d[1]));
  g.append("path").datum(d3.zip(coreMb, p.core))
    .attr("d", area).attr("fill", p.color).attr("stroke", p.color)
    .attr("stroke-width", 4).attr("stroke-linejoin", "round");

  g.selectAll(".floor").data(floorMb).enter().append("circle")
    .attr("class", "floor")
    .attr("cx", d => x(d)).attr("cy", y(p.floor))
    .attr("r", dotR).attr("fill", p.floorColor);

  p.layers.forEach(l => {
    g.append("g").selectAll("circle").data(l.data).enter().append("circle")
      .attr("cx", d => x(d[0])).attr("cy", d => y(d[1]))
      .attr("r", dotR).attr("fill", l.color);
  });

  // orange and green are painted left to right so they overlap like the original
  if (p.mixed) {
    const merged = p.mixed.flatMap(([pts, color]) => pts.map(d => ({ mb: d[0], val: d[1], color })));
    merged.sort((a, b) => d3.ascending(a.mb, b.mb));
    g.append("g").selectAll("circle").data(merged).enter().append("circle")
      .attr("cx", d => x(d.mb)).attr("cy", d => y(d.val))
      .attr("r", dotR).attr("fill", d => d.color);
  }

  if (p.arrows) {
    g.selectAll(".arrow").data(p.arrows).enter().append("path")
      .attr("class", "arrow")
      .attr("transform", d => `translate(${x(d)},${y(.5725)})`)
      .attr("d", "M-1.4,-19 L1.4,-19 L1.4,-10 L5,-12 L0,0 L-5,-12 L-1.4,-10 Z")
      .attr("fill", "#3b4d5a");
  }

  g.append("g")
    .attr("transform", `translate(0,${p.top + plotH})`)
    .call(d3.axisBottom(x).tickValues(xTicks).tickSize(7).tickSizeOuter(0).tickPadding(8))
    .call(a => a.select(".domain").attr("stroke", "#555").attr("stroke-width", 1.5))
    .call(a => a.selectAll("line").attr("stroke", "#555").attr("stroke-width", 1.2));

  g.append("g")
    .attr("transform", `translate(${p.left},0)`)
    .call(d3.axisLeft(y).tickValues(p.ticks).tickFormat(p.labels).tickSize(7).tickSizeOuter(0).tickPadding(3))
    .call(a => a.select(".domain").attr("stroke", "#555").attr("stroke-width", 1.5))
    .call(a => a.selectAll("line").attr("stroke", "#555").attr("stroke-width", 1.2));

  g.append("text").attr("class", "title")
    .attr("x", p.left + .5).attr("y", p.top - 14).text(p.title);
  g.append("text").attr("class", "label").attr("text-anchor", "middle")
    .attr("x", p.left + plotW / 2 - 9.5).attr("y", p.top + plotH + 55)
    .text("Chromosome position (Mb)");
  g.append("text").attr("class", "label").attr("text-anchor", "middle")
    .attr("transform", `translate(${p.left - 59.5},${p.top + plotH / 2 - .5}) rotate(-90)`)
    .text("Percentage variance");
});
</script>
</body>
</html>
